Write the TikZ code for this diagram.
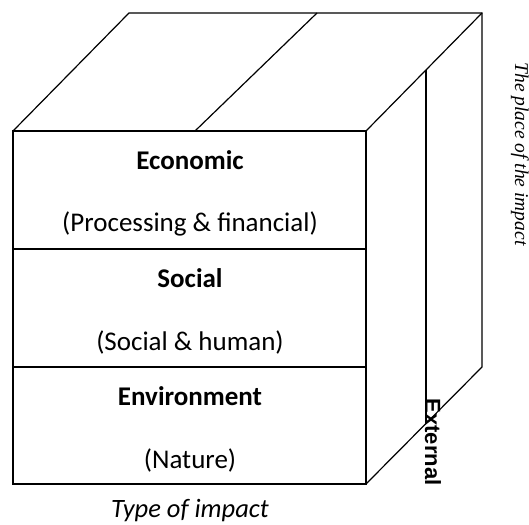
\documentclass[tikz,border=0pt]{standalone}
\usepackage{fontspec}
\setmainfont{Carlito}
\newfontfamily\placefont{Liberation Serif}[ItalicFont={Liberation Serif Italic}]
\newfontfamily\extfont{Liberation Sans}[BoldFont={Liberation Sans Bold}]
\usetikzlibrary{calc}

\begin{document}
\begin{tikzpicture}
[x=1pt,y=1pt,
  frontdecorate/.style={line width=1.8pt},%
  linedecorate/.style={line width=1.2pt},%
  titledecorate/.style={font=\fontsize{27}{32}\selectfont\bfseries},%
  subdecorate/.style={font=\fontsize{27}{32}\selectfont}]
\useasboundingbox (0,0) rectangle (529,524);
%% corners of the cube
\coordinate (fbl) at (13,40);
\coordinate (ftl) at (13,393);
\coordinate (ftr) at (366,393);
\coordinate (fbr) at (366,40);
\coordinate (btl) at (129,511);
\coordinate (btr) at (482,511);
\coordinate (bbr) at (482,157);
\coordinate (fmid) at (195,393);
\coordinate (bmid) at (317,511);
\coordinate (itop) at (426,454);
\coordinate (ibot) at (426,100);
%% top and side faces
\draw[linedecorate] (ftl) -- (btl) -- (btr) -- (bbr) -- (fbr);
\draw[linedecorate] (btr) -- (ftr);
\draw[linedecorate] (fmid) -- (bmid);
\draw[linedecorate] (itop) -- (ibot);
%% front face with its three layers
\draw[frontdecorate] (fbl) rectangle (ftr);
\foreach \y in {275, 157} {
  \draw[frontdecorate] (13,\y) -- (366,\y);
}
\foreach \name/\title/\sub/\y in {eco/Economic/(Processing \& financial)/393,
    soc/Social/(Social \& human)/275, env/Environment/(Nature)/157} {
  \node (\name) at (190,\y-29) [titledecorate] {\title};
  \node (\name sub) at (190,\y-93) [subdecorate] {\sub};
}
%% axis labels
\node (external) at (433,82) [rotate=-90] {\extfont\fontsize{22}{26}\selectfont\bfseries External};
\node (place) at (520,370) [rotate=-90] {\placefont\itshape\fontsize{19.5}{23}\selectfont The place of the impact};
\node (type) at (190,13) [font=\fontsize{26.5}{31}\selectfont\itshape] {Type of impact};
\end{tikzpicture}
\end{document}
